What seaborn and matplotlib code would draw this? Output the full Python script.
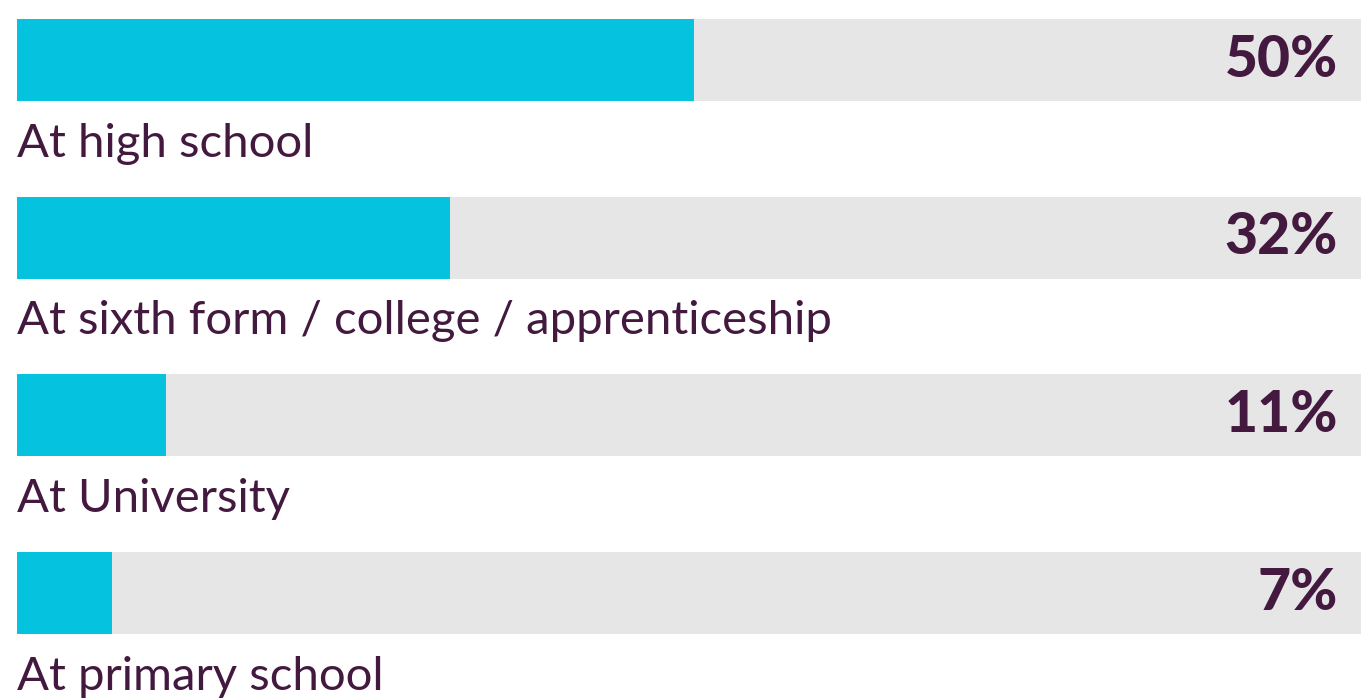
import pandas as pd
import numpy as np
import matplotlib.pyplot as plt
import seaborn as sns

categories = ['At high school',
              'At sixth form / college / apprenticeship',
              'At University',
              'At primary school']
values = [50, 32, 11, 7]
labels = ['50%', '32%', '11%', '7%']

sns.set_style('white')
plt.rcParams['font.family'] = ['Lato', 'DejaVu Sans']

df = pd.DataFrame({'cat': categories, 'val': values, 'full': [100] * 4})

fig = plt.figure(figsize=(13.61, 6.98), dpi=100)
# the track runs a little past the right edge of the picture
ax = fig.add_axes([17 / 1361, 0, 1354 / 1361, 1])

# grey track behind each bar
sns.barplot(data=df, x='full', y='cat', color='#E6E6E6', width=0.46,
            saturation=1, linewidth=0, ax=ax)
sns.barplot(data=df, x='val', y='cat', color='#05C3DE', width=0.46,
            saturation=1, linewidth=0, ax=ax)

text_col = '#43193F'
for i, (cat, lab) in enumerate(zip(categories, labels)):
    ax.annotate(lab, xy=(100, i), xytext=(-24, 0), textcoords='offset points',
                ha='right', va='center', fontsize=41, fontweight='black',
                color=text_col)
    ax.text(0, i + 0.47, cat, ha='left', va='center', fontsize=34,
            color=text_col)

ax.set_xlim(0, 100)
ax.set_ylim(3.591, -0.338)
ax.set_axis_off()

plt.savefig('out.png', dpi=100)
